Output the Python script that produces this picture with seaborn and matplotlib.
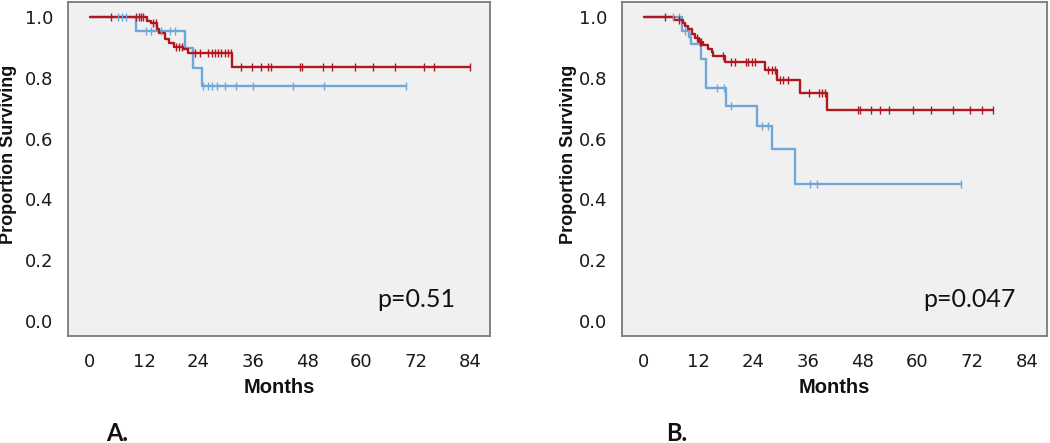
import numpy as np
import pandas as pd
import matplotlib
matplotlib.use("Agg")
import matplotlib.pyplot as plt
import seaborn as sns

# ---------------- data ----------------
# Panel A
a_red_t = [0, 12.7, 13.6, 14.9, 15.2, 16.6, 17.5, 18.6, 20.6, 21.7, 31.5, 84.0]
a_red_s = [1.0, 0.987, 0.979, 0.959, 0.946, 0.927, 0.915, 0.902, 0.894, 0.882, 0.836, 0.836]
a_red_c = [4.6, 10.3, 10.8, 11.4, 11.8, 14.0, 14.7, 19.1, 19.7, 20.3, 23.2, 24.3, 26.1,
           26.9, 27.6, 28.4, 29.1, 29.8, 30.6, 31.3, 33.5, 35.9, 37.9, 39.4, 40.1, 46.4,
           46.8, 51.6, 53.6, 58.6, 62.5, 67.4, 73.8, 76.0, 84.0]
a_blue_t = [0, 10.3, 21.0, 22.8, 24.7, 69.8]
a_blue_s = [1.0, 0.954, 0.897, 0.833, 0.773, 0.773]
a_blue_c = [6.3, 7.1, 8.1, 12.5, 13.6, 15.8, 17.7, 18.8, 25.0, 26.2, 26.9, 28.0, 29.8,
            32.4, 36.1, 44.9, 51.7, 69.8]

# Panel B
b_red_t = [0, 6.7, 8.6, 9.1, 9.6, 10.6, 11.2, 12.0, 13.0, 14.1, 14.9, 15.2, 17.8,
           26.6, 29.3, 34.3, 40.1, 76.5]
b_red_s = [1.0, 0.99, 0.98, 0.97, 0.96, 0.945, 0.93, 0.918, 0.906, 0.895, 0.883, 0.87,
           0.852, 0.825, 0.794, 0.750, 0.695, 0.695]
b_red_c = [4.7, 7.6, 11.6, 12.2, 12.6, 17.4, 19.2, 19.9, 22.4, 22.9, 23.7, 24.4, 27.3,
           28.1, 28.8, 29.9, 30.6, 31.7, 36.1, 38.4, 39.1, 39.8, 46.9, 47.3, 49.7, 51.8,
           53.8, 59.0, 62.9, 67.8, 71.5, 74.1, 76.5]
b_blue_t = [0, 8.4, 9.9, 10.4, 12.6, 13.7, 18.0, 24.8, 28.2, 33.2, 69.6]
b_blue_s = [1.0, 0.955, 0.935, 0.91, 0.862, 0.767, 0.708, 0.642, 0.565, 0.451, 0.451]
b_blue_c = [6.3, 7.6, 9.1, 10.1, 16.0, 17.6, 19.2, 25.9, 27.3, 36.4, 38.0, 69.6]

x_ticks = [0, 12, 24, 36, 48, 60, 72, 84]
y_ticks = [0.0, 0.2, 0.4, 0.6, 0.8, 1.0]
p_labels = ["p=0.51", "p=0.047"]
panel_labels = ["A.", "B."]

RED = "#b0171f"
BLUE = "#70a7da"

# ---------------- styling ----------------
sns.set_theme(style="white")
plt.rcParams["font.family"] = ["DejaVu Sans"]

W, H = 1050, 443
fig = plt.figure(figsize=(W / 100, H / 100), dpi=100)

def frac_box(l, r, t, b):
    return [l / W, 1 - b / H, (r - l) / W, (b - t) / H]

ax_a = fig.add_axes(frac_box(68, 490, 2, 336))
ax_b = fig.add_axes(frac_box(622, 1047, 2, 336))


def censor_y(t_steps, s_steps, c):
    idx = np.searchsorted(np.asarray(t_steps), np.asarray(c), side="right") - 1
    return np.asarray(s_steps)[idx]


def draw_panel(ax, red, blue, ptxt, plab, ylab_x, plab_x, p_xy):
    for (t, s, c), col in ((blue, BLUE), (red, RED)):
        df = pd.DataFrame({"t": t, "s": s})
        sns.lineplot(data=df, x="t", y="s", ax=ax, color=col, lw=1.7,
                     drawstyle="steps-post", estimator=None, sort=False)
        cd = pd.DataFrame({"t": c, "s": censor_y(t, s, c)})
        sns.scatterplot(data=cd, x="t", y="s", ax=ax, marker="|", s=40,
                        color=col, linewidth=1.0, zorder=5)
    ax.set_facecolor("#f0f0f0")
    ax.set_xlim(-4.8, 88.4)
    ax.set_ylim(-0.049, 1.049)
    ax.set_xticks(x_ticks)
    ax.set_xticklabels([str(v) for v in x_ticks])
    ax.set_yticks(y_ticks)
    ax.set_yticklabels([f"{v:.1f}" for v in y_ticks])
    ax.tick_params(axis="both", which="major", direction="out", length=8.5,
                   width=1.1, color="#5a5a5a", labelsize=13, labelcolor="#1a1a1a")
    ax.tick_params(axis="x", pad=4)
    ax.tick_params(axis="y", pad=2)
    for sp in ax.spines.values():
        sp.set_visible(True)
        sp.set_color("#7a7a7a")
        sp.set_linewidth(1.3)
    ax.set_xlabel("Months", fontsize=14.5, fontweight="bold",
                  family=["Liberation Sans", "DejaVu Sans"], color="#111111")
    ax.xaxis.set_label_coords(0.5, -0.154)
    ax.xaxis.label.set_va("center")
    ax.set_ylabel("Proportion Surviving", fontsize=13, fontweight="bold",
                  family=["Liberation Sans", "DejaVu Sans"], color="#111111")
    ax.yaxis.set_label_coords(ylab_x, 0.545)
    ax.yaxis.label.set_va("center")
    ax.text(p_xy[0], p_xy[1], ptxt, fontsize=18, family=["Lato", "DejaVu Sans"],
            ha="left", va="baseline", color="#111111")
    fig.text(plab_x / W, 1 - 441 / H, plab, fontsize=17, fontweight="bold",
             family=["Lato", "DejaVu Sans"], ha="left", va="baseline", color="#111111")
    ax.grid(False)


draw_panel(ax_a, (a_red_t, a_red_s, a_red_c), (a_blue_t, a_blue_s, a_blue_c),
           p_labels[0], panel_labels[0], -0.14, 106, (63.4, 0.046))
draw_panel(ax_b, (b_red_t, b_red_s, b_red_c), (b_blue_t, b_blue_s, b_blue_c),
           p_labels[1], panel_labels[1], -0.125, 666, (61.3, 0.047))

fig.savefig("out.png", dpi=100)
